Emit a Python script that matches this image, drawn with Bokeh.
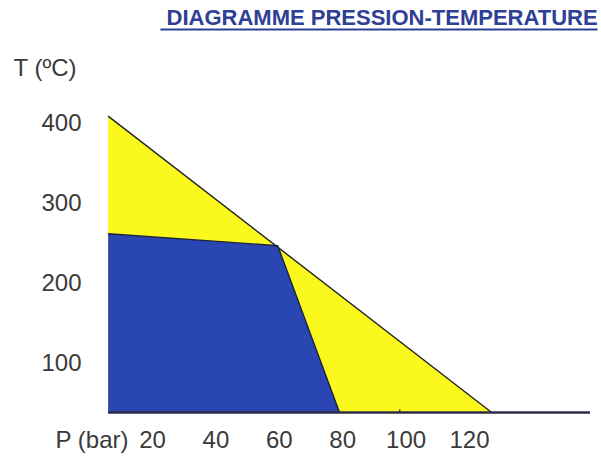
from bokeh.plotting import figure
from bokeh.models import Range1d, FixedTicker, Label, BoxAnnotation
from bokeh.embed import file_html
from bokeh.resources import INLINE

# ---- data (pressure in bar, temperature in degC) ----
pressure_ticks = [20, 40, 60, 80, 100, 120]
temperature_ticks = [100, 200, 300, 400]

yellow_p = [6, 127, 6]
yellow_t = [408, 37.5, 37.5]

blue_p = [6, 59.5, 79, 6]
blue_t = [261, 246, 37.5, 37.5]

limit_p = [6, 127]
limit_t = [408, 37.5]

blue_edge_p = [6, 59.5, 79]
blue_edge_t = [261, 246, 37.5]

base_p = [6, 158]
base_t = [37.5, 37.5]

mark_p = [98, 98]
mark_t = [37.5, 41.5]

title_text = "DIAGRAMME PRESSION-TEMPERATURE"
x_name = "P (bar)"
y_name = "T (ºC)"

FONT = "Liberation Sans"
TXT = "#3a3a3a"
TITLE_C = "#2E3F95"

# layout constants (data units of the frame)
X_NAME_POS = 1
YAXIS_AT = 3.6

p = figure(width=600, height=464,
           x_range=Range1d(-27.95, 161.32), y_range=Range1d(32.5, 552.5),
           output_backend="svg", toolbar_location=None,
           min_border_left=0, min_border_right=0,
           min_border_top=0, min_border_bottom=48)
p.outline_line_color = None
p.xgrid.visible = False
p.ygrid.visible = False
p.background_fill_color = "white"
p.border_fill_color = "white"

# regions
p.patch(yellow_p, yellow_t, fill_color="#FBF81E", line_color=None)
p.patch(blue_p, blue_t, fill_color="#2A46B3", line_color=None)
p.line(limit_p, limit_t, line_color="#222222", line_width=1.4)
p.line(blue_edge_p, blue_edge_t, line_color="#1d2340", line_width=1.4)
p.line(base_p, base_t, line_color="#2c2c4a", line_width=2.6)
p.line(mark_p, mark_t, line_color="#2c2c4a", line_width=1.2)

# axes
for ax in (p.xaxis[0], p.yaxis[0]):
    ax.axis_line_color = None
    ax.major_tick_line_color = None
    ax.minor_tick_line_color = None
    ax.major_label_text_font = FONT
    ax.major_label_text_font_size = "24px"
    ax.major_label_text_color = TXT
p.xaxis.ticker = FixedTicker(ticks=[X_NAME_POS] + pressure_ticks)
p.xaxis.major_label_overrides = {X_NAME_POS: x_name}
p.yaxis.ticker = FixedTicker(ticks=temperature_ticks)
p.yaxis.fixed_location = YAXIS_AT
p.xaxis.major_label_standoff = 3
p.yaxis.major_label_standoff = 13

# texts
p.add_layout(Label(x=160.4, y=531, text=title_text, text_align="right",
                   text_baseline="alphabetic", text_font=FONT,
                   text_font_size="22px", text_font_style="bold",
                   text_color=TITLE_C))
p.add_layout(BoxAnnotation(left=22.5, right=160.4, bottom=515.0, top=517.5,
                           fill_color=TITLE_C, fill_alpha=1.0, line_color=None))
p.add_layout(Label(x=-23.85, y=468.5, text=y_name, text_align="left",
                   text_baseline="alphabetic", text_font=FONT,
                   text_font_size="24px", text_color=TXT))

open("out.html", "w").write(file_html(p, INLINE))
